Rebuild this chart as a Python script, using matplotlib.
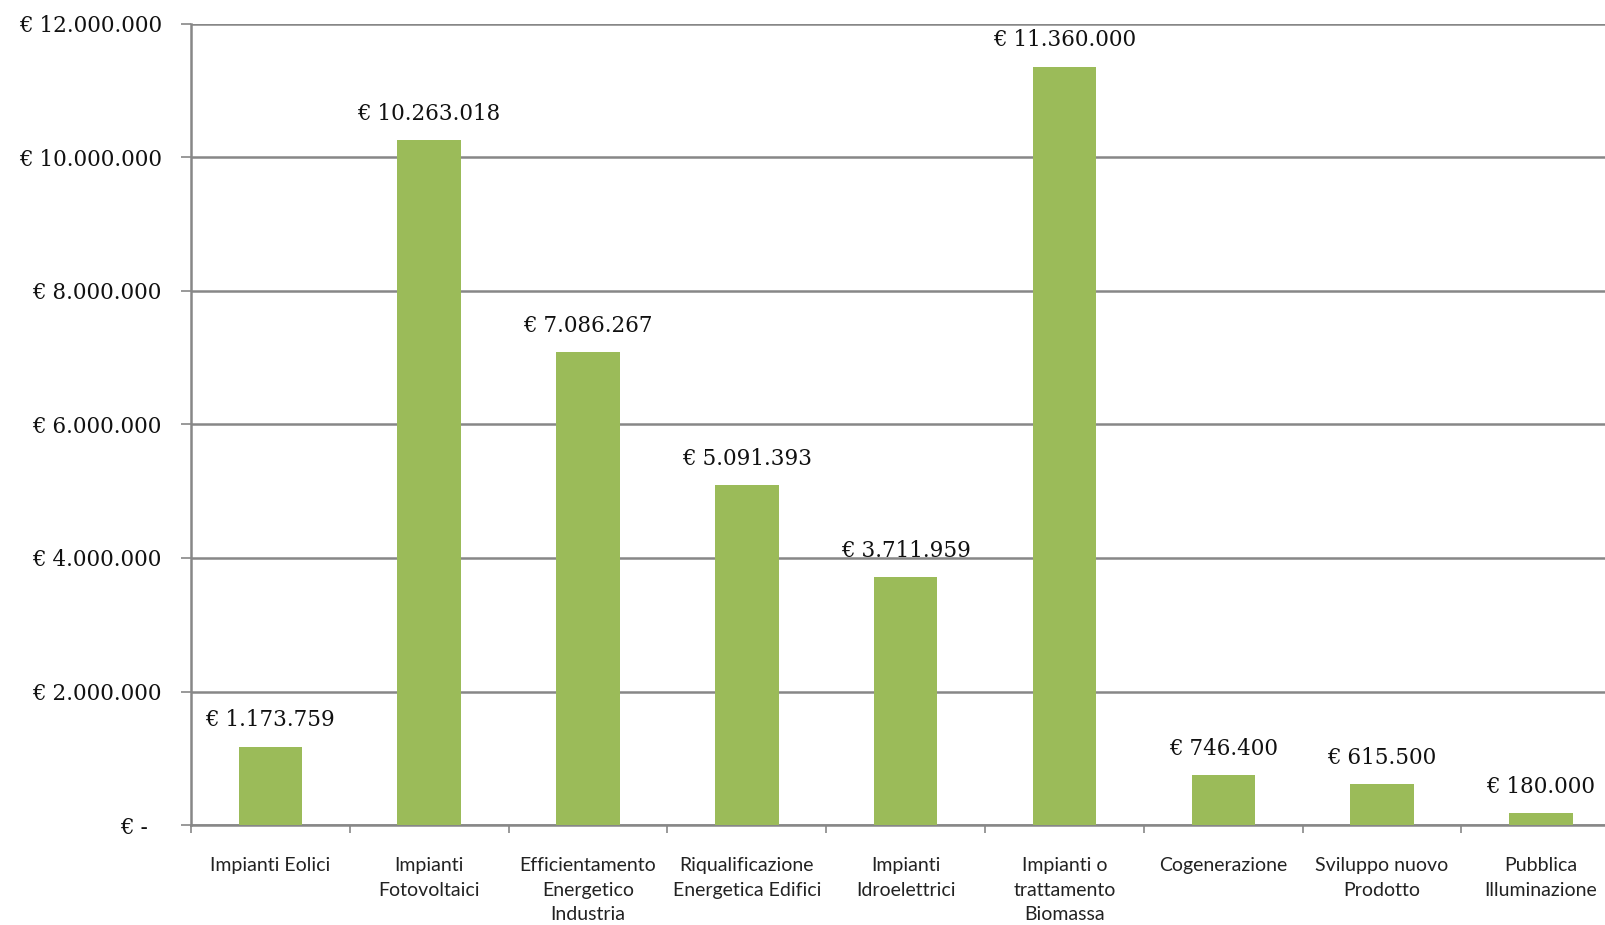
import matplotlib.pyplot as plt
from matplotlib.transforms import ScaledTranslation

# --------------------------------------------------
# Data
# --------------------------------------------------
categories = [
    "Impianti Eolici",
    "Impianti\nFotovoltaici",
    "Efficientamento\nEnergetico\nIndustria",
    "Riqualificazione\nEnergetica Edifici",
    "Impianti\nIdroelettrici",
    "Impianti o\ntrattamento\nBiomassa",
    "Cogenerazione",
    "Sviluppo nuovo\nProdotto",
    "Pubblica\nIlluminazione",
]
values = [1173759, 10263018, 7086267, 5091393, 3711959, 11360000, 746400, 615500, 180000]
y_ticks = [0, 2000000, 4000000, 6000000, 8000000, 10000000, 12000000]


def euro(v):
    if v == 0:
        return "€ -"
    return "€ " + f"{v:,.0f}".replace(",", ".")


bar_color = "#9BBB59"
grid_color = "#878787"
num_font = "DejaVu Serif"
lab_font = "Lato"

# --------------------------------------------------
# Figure
# --------------------------------------------------
fig = plt.figure(figsize=(16.06, 9.25), dpi=100)
ax = fig.add_axes([191 / 1606, 100 / 925, 1 - 191 / 1606, 801 / 925])

x = list(range(len(categories)))
ax.bar(x, values, width=0.40, color=bar_color, zorder=3)

for xi, v in zip(x, values):
    ax.annotate(euro(v), (xi, v), xytext=(0, 19), textcoords="offset points",
                ha="center", va="center", fontsize=15.5, family=num_font,
                color="#111111")

# y axis
ax.set_yticks(y_ticks)
ax.set_yticklabels([euro(v) for v in y_ticks], fontsize=15.5, family=num_font,
                   color="#111111")
ax.tick_params(axis="y", length=7, width=1.2, color=grid_color, pad=14)
zero_lbl = ax.get_yticklabels()[0]
zero_lbl.set_transform(zero_lbl.get_transform()
                       + ScaledTranslation(-14 / 100, 0, fig.dpi_scale_trans))
ax.yaxis.grid(True, color=grid_color, linewidth=1.8, zorder=0)

# x axis: labels at centres, ticks at category boundaries
ax.set_xticks(x)
ax.set_xticklabels(categories, fontsize=14, family=lab_font, color="#222222",
                   linespacing=1.55, va="top")
ax.tick_params(axis="x", which="major", length=0, pad=23)
ax.set_xticks([i - 0.5 for i in range(len(categories) + 1)], minor=True)
ax.tick_params(axis="x", which="minor", length=6, width=1.2, color=grid_color)

# limits last, so the tick setters do not widen them
ax.set_xlim(-0.5, 8.41)
ax.set_ylim(0, 12000000)

for side in ["top", "right"]:
    ax.spines[side].set_visible(False)
for side in ["left", "bottom"]:
    ax.spines[side].set_color(grid_color)
    ax.spines[side].set_linewidth(1.8)

fig.savefig("out.png", dpi=100)
